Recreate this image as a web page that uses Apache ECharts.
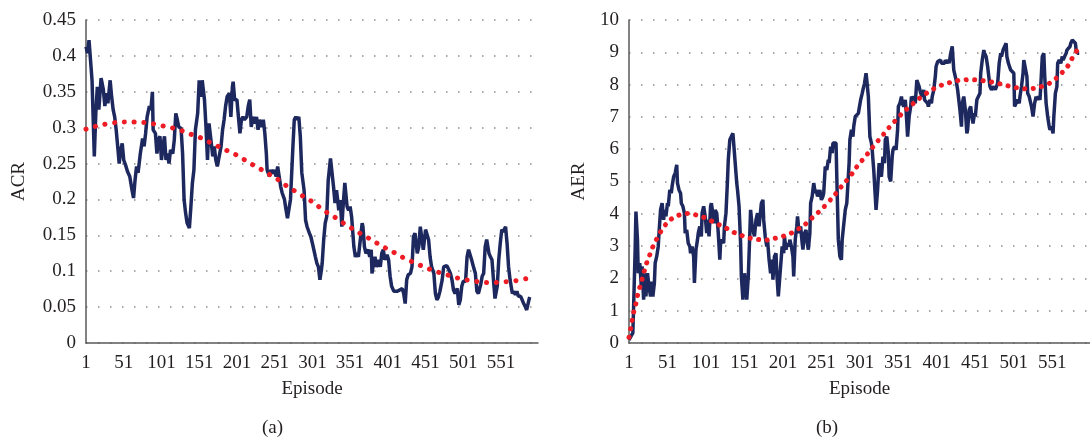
<!DOCTYPE html>
<html>
<head>
<meta charset="utf-8">
<script src="https://cdn.jsdelivr.net/npm/echarts@6/dist/echarts.min.js"></script>
<style>
  html, body { margin: 0; padding: 0; background: #fff; }
  #chart { width: 1090px; height: 443px; }
</style>
</head>
<body>
<div id="chart"></div>
<script>
// episode axis, shared by both panels
const episodeCount = 600
const episodes = Array.from({ length: episodeCount }, (_, i) => String(i + 1))

const acrTicks = { min: 0, max: 0.45, interval: 0.05 }
const aerTicks = { min: 0, max: 10, interval: 1 }

// (a) ACR per episode: [episode, value]
const acrPoints = [
  [1, 0.413], [3, 0.404], [5, 0.422], [6, 0.42], [9, 0.366], [12, 0.26], [14, 0.32], [16, 0.357],
  [18, 0.325], [21, 0.369], [24, 0.353], [26, 0.33], [28, 0.348], [30, 0.334], [33, 0.366], [35, 0.343],
  [37, 0.325], [39, 0.315], [41, 0.297], [43, 0.274], [45, 0.25], [47, 0.269], [49, 0.278], [51, 0.255],
  [54, 0.246], [56, 0.239], [59, 0.232], [62, 0.213], [64, 0.202], [66, 0.227], [68, 0.246], [70, 0.237],
  [73, 0.264], [76, 0.285], [78, 0.274], [80, 0.292], [82, 0.315], [85, 0.33], [87, 0.325], [89, 0.35],
  [90, 0.297], [93, 0.292], [95, 0.264], [97, 0.283], [99, 0.288], [101, 0.255], [103, 0.274], [105, 0.288],
  [107, 0.255], [109, 0.264], [111, 0.25], [113, 0.269], [116, 0.264], [118, 0.283], [120, 0.32], [122, 0.311],
  [124, 0.301], [127, 0.299], [129, 0.264], [131, 0.2], [133, 0.181], [135, 0.167], [138, 0.16], [140, 0.19],
  [142, 0.223], [144, 0.241], [146, 0.297], [149, 0.32], [151, 0.366], [153, 0.343], [155, 0.366], [158, 0.339],
  [160, 0.301], [162, 0.255], [164, 0.306], [166, 0.288], [169, 0.26], [171, 0.274], [173, 0.255], [175, 0.246],
  [177, 0.244], [180, 0.274], [182, 0.297], [184, 0.311], [186, 0.33], [188, 0.343], [191, 0.348], [193, 0.315],
  [195, 0.357], [196, 0.364], [198, 0.339], [201, 0.339], [203, 0.315], [205, 0.292], [207, 0.311], [209, 0.315],
  [211, 0.311], [214, 0.315], [216, 0.33], [218, 0.339], [220, 0.301], [222, 0.315], [225, 0.306], [227, 0.315],
  [229, 0.297], [231, 0.311], [234, 0.301], [236, 0.311], [238, 0.292], [240, 0.264], [241, 0.241], [244, 0.232],
  [246, 0.241], [248, 0.236], [250, 0.241], [253, 0.232], [255, 0.246], [257, 0.232], [259, 0.218], [261, 0.209],
  [264, 0.2], [266, 0.186], [268, 0.174], [270, 0.172], [272, 0.2], [275, 0.269], [277, 0.311], [279, 0.315],
  [281, 0.311], [283, 0.315], [285, 0.288], [287, 0.237], [290, 0.213], [292, 0.171], [294, 0.162], [297, 0.153],
  [299, 0.148], [301, 0.139], [305, 0.12], [307, 0.111], [309, 0.106], [311, 0.088], [313, 0.102], [314, 0.111],
  [316, 0.144], [318, 0.167], [320, 0.176], [322, 0.227], [325, 0.257], [327, 0.255], [329, 0.218], [331, 0.195],
  [333, 0.213], [336, 0.185], [338, 0.199], [340, 0.162], [342, 0.195], [344, 0.223], [347, 0.19], [349, 0.185],
  [351, 0.19], [353, 0.176], [356, 0.134], [358, 0.12], [360, 0.125], [362, 0.12], [364, 0.139], [367, 0.167],
  [368, 0.162], [370, 0.134], [372, 0.125], [375, 0.13], [377, 0.12], [379, 0.13], [380, 0.097], [382, 0.111],
  [384, 0.12], [386, 0.106], [389, 0.116], [391, 0.106], [393, 0.125], [395, 0.13], [397, 0.116], [400, 0.123],
  [402, 0.116], [404, 0.093], [406, 0.079], [409, 0.072], [411, 0.074], [413, 0.072], [415, 0.074], [417, 0.074],
  [420, 0.076], [422, 0.069], [424, 0.055], [426, 0.088], [428, 0.095], [431, 0.097], [433, 0.106], [435, 0.148],
  [437, 0.153], [440, 0.125], [442, 0.134], [444, 0.162], [446, 0.164], [448, 0.13], [451, 0.158], [453, 0.158],
  [455, 0.144], [457, 0.12], [459, 0.106], [462, 0.097], [464, 0.069], [466, 0.06], [468, 0.064], [470, 0.072],
  [473, 0.088], [475, 0.106], [477, 0.108], [479, 0.108], [481, 0.104], [484, 0.097], [486, 0.088], [488, 0.074],
  [490, 0.069], [493, 0.076], [495, 0.053], [497, 0.06], [499, 0.079], [501, 0.086], [504, 0.086], [506, 0.12],
  [508, 0.13], [510, 0.128], [512, 0.116], [515, 0.104], [517, 0.097], [519, 0.072], [521, 0.069], [524, 0.081],
  [526, 0.093], [528, 0.097], [530, 0.134], [532, 0.144], [535, 0.125], [537, 0.12], [539, 0.116], [541, 0.088],
  [543, 0.062], [546, 0.079], [548, 0.116], [550, 0.139], [552, 0.158], [554, 0.155], [557, 0.162], [559, 0.139],
  [561, 0.106], [563, 0.088], [566, 0.069], [568, 0.072], [570, 0.067], [572, 0.072], [574, 0.065], [577, 0.065],
  [579, 0.06], [581, 0.055], [583, 0.051], [585, 0.046], [588, 0.06], [589, 0.064]
]

// (a) polynomial trend of ACR
const acrTrend = [
  [1, 0.298], [14, 0.302], [27, 0.305], [39, 0.307], [53, 0.308], [66, 0.308], [79, 0.307], [92, 0.305],
  [105, 0.302], [118, 0.299], [130, 0.295], [142, 0.29], [155, 0.285], [166, 0.279], [178, 0.273], [190, 0.267],
  [202, 0.261], [213, 0.254], [224, 0.247], [236, 0.24], [247, 0.233], [258, 0.226], [268, 0.218], [279, 0.211],
  [291, 0.203], [302, 0.196], [312, 0.188], [323, 0.18], [334, 0.173], [345, 0.165], [356, 0.158], [367, 0.151],
  [379, 0.144], [390, 0.137], [402, 0.13], [413, 0.124], [425, 0.117], [436, 0.112], [449, 0.106], [461, 0.101],
  [473, 0.097], [486, 0.093], [499, 0.089], [512, 0.087], [524, 0.085], [538, 0.084], [551, 0.085], [564, 0.086],
  [577, 0.088], [590, 0.091]
]

// (b) AER per episode: [episode, value]
const aerPoints = [
  [1, 0.1], [6, 0.31], [7, 1.13], [9, 2.9], [10, 4.07], [12, 3.2], [13, 2.16], [15, 2.47],
  [17, 1.75], [18, 2.37], [20, 1.34], [22, 2.16], [23, 1.44], [25, 2.16], [27, 1.75], [29, 1.44],
  [30, 1.9], [32, 1.44], [34, 1.86], [35, 2.47], [37, 2.68], [39, 2.99], [40, 3.4], [42, 4.12],
  [44, 4.33], [46, 3.81], [47, 4.12], [49, 3.92], [51, 4.33], [52, 4.23], [54, 4.74], [56, 4.64],
  [57, 4.85], [59, 5.15], [61, 5.26], [63, 5.52], [64, 4.95], [66, 4.74], [68, 4.64], [69, 4.33],
  [71, 4.23], [73, 4.02], [74, 3.4], [76, 3.5], [78, 3.09], [80, 2.99], [81, 2.78], [83, 2.99],
  [85, 2.68], [86, 1.86], [88, 2.89], [90, 3.2], [91, 3.4], [93, 3.61], [95, 3.3], [96, 4.02],
  [98, 4.23], [100, 3.92], [102, 3.4], [103, 3.81], [105, 3.3], [107, 4.23], [108, 4.33], [110, 4.02],
  [112, 3.71], [113, 4.12], [115, 4.02], [117, 3.4], [119, 2.58], [120, 3.09], [122, 3.2], [124, 3.09],
  [125, 3.61], [127, 4.02], [129, 5.05], [130, 5.67], [132, 6.29], [134, 6.39], [136, 6.49], [137, 6.19],
  [139, 5.57], [141, 4.95], [142, 4.74], [144, 4.23], [146, 3.09], [147, 2.06], [149, 1.34], [151, 2.16],
  [153, 1.75], [154, 1.34], [156, 2.06], [158, 3.4], [159, 4.12], [161, 3.61], [163, 3.4], [164, 3.3],
  [166, 3.81], [168, 4.02], [170, 3.61], [171, 3.61], [173, 4.33], [175, 4.43], [176, 3.81], [178, 3.3],
  [180, 2.99], [181, 3.2], [183, 2.58], [185, 2.16], [187, 2.58], [188, 1.96], [190, 2.68], [192, 2.78],
  [193, 2.16], [195, 1.44], [197, 2.06], [198, 2.37], [200, 2.99], [202, 2.78], [203, 3.3], [205, 2.89],
  [207, 3.09], [209, 2.99], [210, 3.2], [212, 2.99], [214, 2.68], [215, 2.06], [217, 3.2], [219, 3.61],
  [220, 3.92], [222, 3.4], [224, 3.61], [226, 3.09], [227, 2.89], [229, 3.4], [231, 3.5], [232, 3.2],
  [234, 2.89], [236, 3.4], [237, 4.33], [239, 4.54], [241, 4.95], [243, 4.64], [244, 4.74], [246, 4.54],
  [248, 4.64], [249, 4.74], [251, 4.43], [253, 4.54], [254, 4.64], [256, 5.46], [258, 5.36], [260, 5.67],
  [261, 5.57], [263, 6.08], [265, 5.88], [266, 6.19], [268, 6.19], [270, 6.19], [271, 5.15], [273, 3.2],
  [275, 2.68], [277, 2.58], [278, 3.2], [280, 3.2], [282, 4.12], [284, 4.33], [285, 4.74], [287, 5.57],
  [288, 6.29], [290, 6.6], [292, 6.39], [293, 6.7], [295, 7.01], [297, 7.01], [299, 7.11], [300, 7.11],
  [302, 7.53], [304, 7.73], [305, 7.84], [307, 8.04], [309, 8.35], [310, 8.14], [312, 7.63], [314, 6.39],
  [316, 6.19], [317, 5.98], [319, 5.36], [321, 4.54], [322, 4.12], [324, 4.74], [326, 5.57], [327, 5.26],
  [329, 5.15], [331, 5.77], [333, 5.57], [334, 6.29], [336, 6.39], [338, 5.88], [339, 5.15], [341, 5.0],
  [343, 5.77], [344, 5.98], [346, 6.08], [348, 5.98], [350, 6.6], [351, 7.32], [353, 7.42], [355, 7.63],
  [356, 7.42], [358, 7.32], [360, 7.53], [361, 7.22], [363, 6.39], [365, 7.01], [367, 7.32], [368, 7.63],
  [370, 7.53], [372, 7.63], [373, 7.42], [375, 8.14], [377, 8.14], [378, 7.94], [380, 7.73], [382, 7.63],
  [384, 7.84], [385, 7.53], [387, 7.53], [389, 7.42], [390, 7.32], [392, 7.53], [394, 7.42], [395, 7.63],
  [397, 7.84], [399, 8.25], [400, 8.56], [402, 8.71], [404, 8.66], [406, 8.76], [407, 8.66], [409, 8.71],
  [411, 8.66], [412, 8.76], [414, 8.66], [416, 8.76], [417, 8.66], [419, 8.97], [421, 9.18], [423, 8.45],
  [424, 8.35], [426, 8.14], [428, 7.84], [429, 7.63], [431, 7.22], [433, 6.7], [434, 7.42], [436, 7.63],
  [438, 7.22], [440, 6.49], [441, 6.6], [443, 7.22], [445, 7.32], [446, 7.11], [448, 6.8], [450, 7.11],
  [451, 7.01], [453, 7.53], [455, 7.63], [457, 7.73], [458, 8.35], [460, 8.76], [462, 9.07], [463, 8.97],
  [465, 8.87], [467, 8.56], [468, 8.35], [470, 7.94], [472, 7.84], [474, 7.84], [475, 7.94], [477, 7.84],
  [479, 7.84], [480, 8.04], [482, 8.66], [484, 8.97], [485, 8.87], [487, 9.07], [489, 9.07], [491, 9.28],
  [492, 8.87], [494, 8.66], [496, 8.66], [497, 8.45], [499, 8.45], [501, 8.35], [502, 7.32], [504, 7.32],
  [506, 7.53], [508, 7.42], [509, 7.63], [511, 7.94], [513, 8.35], [514, 8.76], [516, 8.76], [518, 8.25],
  [519, 7.73], [521, 7.63], [523, 7.63], [524, 7.32], [526, 7.01], [528, 7.42], [530, 7.63], [531, 7.53],
  [533, 7.63], [535, 7.53], [536, 7.94], [538, 8.87], [540, 8.97], [541, 8.35], [543, 7.42], [545, 7.01],
  [547, 6.7], [548, 6.6], [550, 6.7], [552, 6.49], [553, 7.01], [555, 7.73], [557, 7.94], [558, 8.66],
  [560, 8.76], [562, 8.66], [564, 8.87], [565, 8.76], [567, 8.87], [569, 8.97], [570, 9.07], [572, 9.07],
  [574, 9.18], [575, 9.28], [577, 9.38], [579, 9.38], [581, 9.28], [582, 9.07], [584, 8.97], [586, 8.97]
]

// (b) polynomial trend of AER
const aerTrend = [
  [1, 0.18], [3, 0.43], [5, 0.69], [7, 0.95], [10, 1.22], [12, 1.46], [15, 1.72], [18, 1.98],
  [21, 2.24], [24, 2.48], [28, 2.73], [32, 2.98], [37, 3.22], [42, 3.44], [48, 3.65], [56, 3.84],
  [66, 3.96], [76, 4.01], [87, 3.97], [97, 3.9], [107, 3.79], [117, 3.67], [127, 3.56], [136, 3.44],
  [146, 3.34], [156, 3.26], [167, 3.21], [178, 3.19], [188, 3.23], [199, 3.29], [209, 3.37], [218, 3.49],
  [228, 3.64], [236, 3.81], [244, 3.98], [252, 4.16], [260, 4.36], [267, 4.55], [274, 4.75], [280, 4.93],
  [288, 5.15], [294, 5.36], [301, 5.57], [308, 5.77], [315, 5.98], [322, 6.19], [329, 6.38], [336, 6.59],
  [343, 6.78], [351, 6.98], [358, 7.16], [367, 7.34], [375, 7.51], [384, 7.67], [392, 7.8], [402, 7.93],
  [412, 8.02], [423, 8.09], [433, 8.14], [444, 8.15], [455, 8.14], [466, 8.1], [476, 8.06], [487, 8.0],
  [497, 7.94], [508, 7.89], [519, 7.87], [529, 7.89], [540, 7.97], [550, 8.08], [558, 8.24], [566, 8.43],
  [573, 8.64], [578, 8.87], [584, 9.09]
]

const serif = 'Liberation Serif'
const textColor = '#231f20'
const axisColor = '#595959'
const navy = '#1d285e'
const red = '#ee1c25'

// category axis works with [index, value] pairs
function toSeries(points) {
  return points.map(([ep, v]) => [ep - 1, v])
}

function xAxisFor(gridIndex) {
  return {
    type: 'category',
    gridIndex,
    data: episodes,
    boundaryGap: false,
    name: 'Episode',
    nameLocation: 'middle',
    nameGap: 37,
    nameTextStyle: { fontFamily: serif, fontSize: 19, color: textColor },
    axisTick: { show: false },
    axisLine: { lineStyle: { color: axisColor, width: 1.5 } },
    axisLabel: { interval: 49, margin: 11, fontFamily: serif, fontSize: 19, color: textColor },
    splitLine: { show: false }
  }
}

function yAxisFor(gridIndex, name, ticks, nameGap) {
  return {
    type: 'value',
    gridIndex,
    min: ticks.min,
    max: ticks.max,
    interval: ticks.interval,
    name,
    nameLocation: 'middle',
    nameRotate: 90,
    nameGap,
    nameTextStyle: { fontFamily: serif, fontSize: 19, color: textColor },
    axisLine: { show: true, lineStyle: { color: axisColor, width: 1.5 } },
    axisTick: { show: false },
    axisLabel: { margin: 10, fontFamily: serif, fontSize: 19, color: textColor },
    splitLine: { lineStyle: { color: '#8c8c8c', width: 1.5, type: [1.5, 10.5] } }
  }
}

const chart = echarts.init(document.getElementById('chart'), null, { renderer: 'canvas' })

chart.setOption({
  backgroundColor: '#fff',
  animation: false,
  grid: [
    { left: 86, top: 20, width: 452, height: 323 },
    { left: 629, top: 20, width: 470, height: 323 }
  ],
  xAxis: [xAxisFor(0), xAxisFor(1)],
  yAxis: [yAxisFor(0, 'ACR', acrTicks, 57), yAxisFor(1, 'AER', aerTicks, 40)],
  series: [
    {
      type: 'line', xAxisIndex: 0, yAxisIndex: 0,
      data: toSeries(acrPoints),
      showSymbol: false,
      lineStyle: { color: navy, width: 3.5 }
    },
    {
      type: 'line', xAxisIndex: 0, yAxisIndex: 0,
      data: toSeries(acrTrend),
      showSymbol: false, smooth: true,
      lineStyle: { color: red, width: 5, type: [0.1, 9.7], cap: 'round' }
    },
    {
      type: 'line', xAxisIndex: 1, yAxisIndex: 1,
      data: toSeries(aerPoints),
      showSymbol: false,
      lineStyle: { color: navy, width: 3.5 }
    },
    {
      type: 'line', xAxisIndex: 1, yAxisIndex: 1,
      data: toSeries(aerTrend),
      showSymbol: false, smooth: true,
      lineStyle: { color: red, width: 5, type: [0.1, 8.4], cap: 'round' }
    }
  ],
  graphic: [
    { type: 'text', left: 262, top: 419, style: { text: '(a)', font: '19px "Liberation Serif"', fill: textColor } },
    { type: 'text', left: 816, top: 419, style: { text: '(b)', font: '19px "Liberation Serif"', fill: textColor } }
  ]
})
</script>
</body>
</html>
